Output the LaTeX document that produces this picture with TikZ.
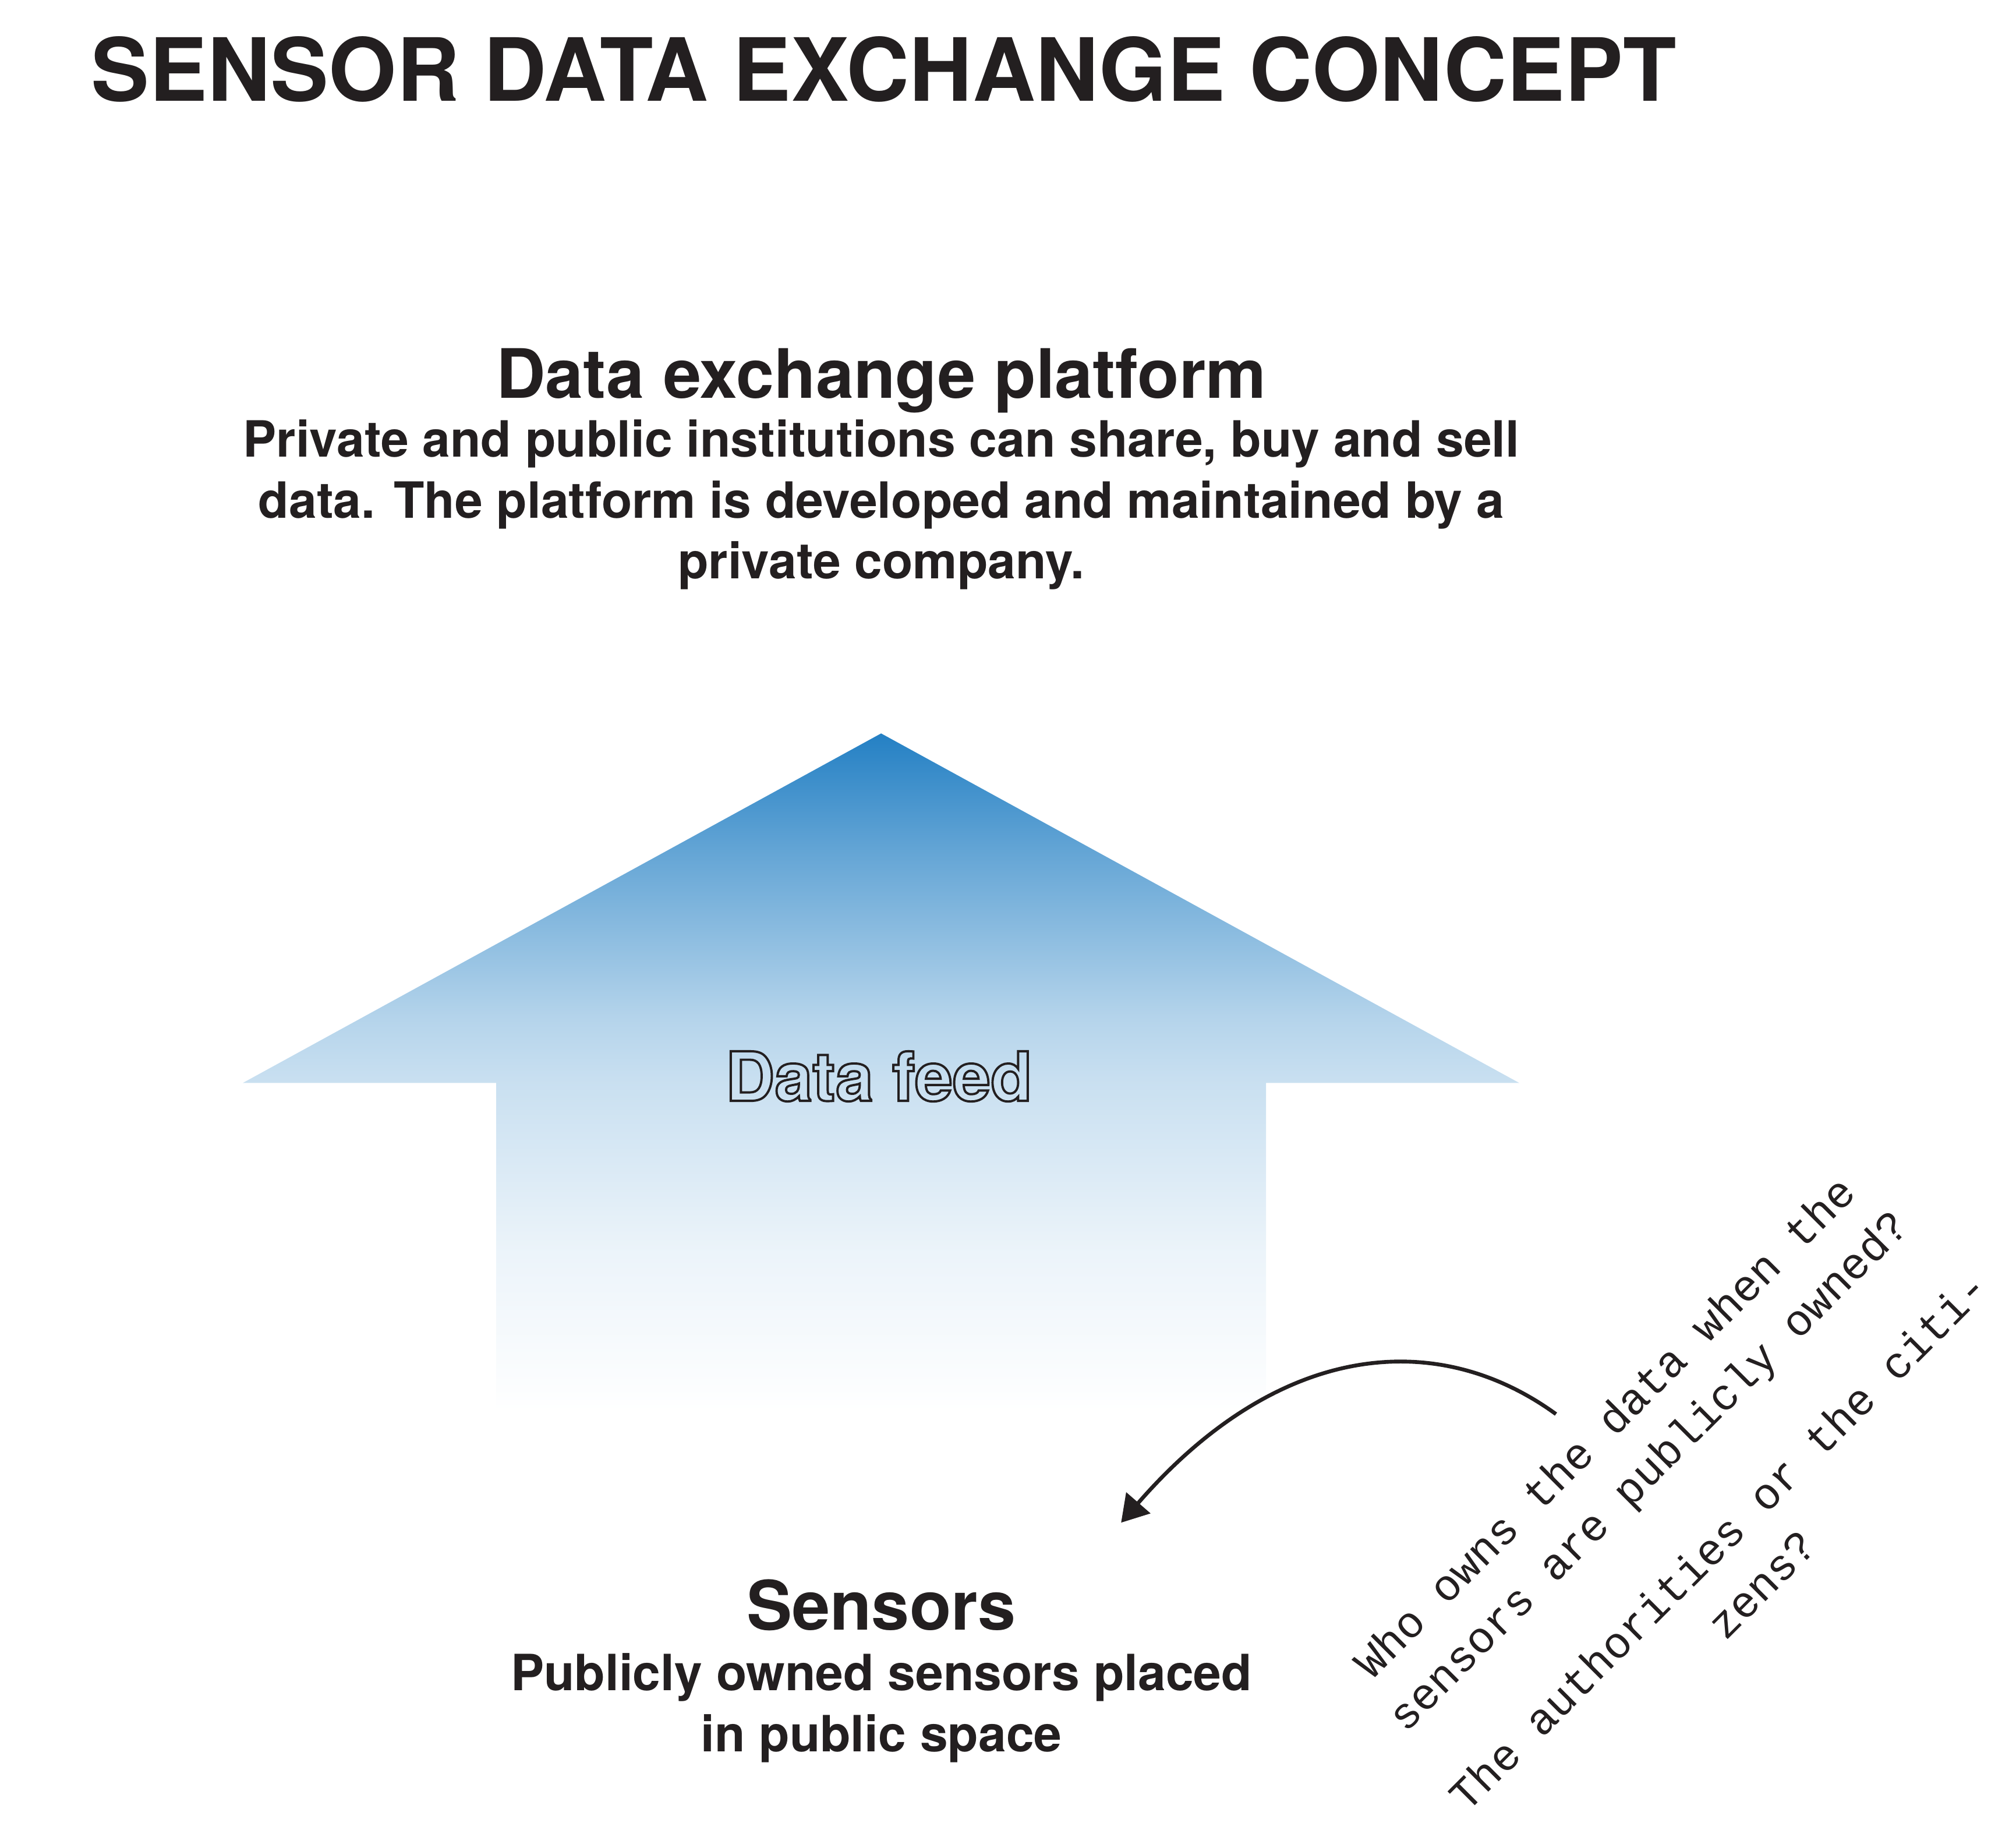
\documentclass[tikz,border=0pt]{standalone}
\usepackage{fontspec}
\setmainfont{TeX Gyre Heros}
\newfontfamily\qfont{Liberation Mono}
\usetikzlibrary{arrows.meta}
\definecolor{textblack}{RGB}{35,31,32}
\definecolor{arrowblue}{RGB}{36,128,196}
\pgfdeclareverticalshading{feedfade}{100bp}{color(0bp)=(white); color(25bp)=(white); color(27.5bp)=(arrowblue!2!white); color(37bp)=(arrowblue!9!white); color(49.5bp)=(arrowblue!25!white); color(54bp)=(arrowblue!34!white); color(66bp)=(arrowblue!70!white); color(75bp)=(arrowblue); color(100bp)=(arrowblue)}
\newcommand\outlinetext[1]{\special{pdf:literal direct 1 Tr 0.5 w}#1\special{pdf:literal direct 0 Tr}}
\begin{document}
\begin{tikzpicture}[>={Triangle[length=5.8pt,width=6.9pt]},
	heading/.style={font=\fontsize{15}{18}\selectfont\bfseries,text=textblack,inner sep=0pt},
	blurb/.style={font=\fontsize{11}{13.4}\selectfont\bfseries,text=textblack,align=center,inner sep=0pt},
	question/.style={font=\qfont\fontsize{9.7}{13.5}\selectfont,text=textblack,align=center,rotate=45,inner sep=0pt}]
		\useasboundingbox (0,0) rectangle (15.6,-14.1);
		\node[anchor=base west,inner sep=0pt,text=textblack,font=\fontsize{19.2}{23}\selectfont\bfseries] (title) at (0.70,-0.78) {SENSOR DATA EXCHANGE CONCEPT};
		\node[heading,anchor=base] (platform) at (6.82,-3.079) {Data exchange platform};
		\node[blurb,anchor=base] (platformtext) at (6.82,-4.477) {Private and public institutions can share, buy and sell\\ data. The platform is developed and maintained by a\\ private company.};
		\shade[shading=feedfade] (6.818,-5.674) -- (11.756,-8.378) -- (9.797,-8.378) -- (9.797,-10.92) -- (3.84,-10.92) -- (3.84,-8.378) -- (1.879,-8.378) -- cycle;
		\node[heading,anchor=base] (feed) at (6.80,-8.517) {\outlinetext{Data feed}};
		\node[heading,anchor=base] (sensors) at (6.82,-12.61) {Sensors};
		\node[blurb,anchor=base] (sensortext) at (6.82,-13.55) {Publicly owned sensors placed\\ in public space};
		\node[question] (question) at (13.02,-11.645) {Who owns the data when the\\ sensors are publicly owned?\\[8.5pt] The authorities or the citi-\\ zens?};
		\coordinate (qstart) at (12.04,-10.94);
		\coordinate (qtip) at (8.675,-11.78);
		\draw[->,line width=0.85pt,textblack] (qstart) to[out=144,in=49,out looseness=0.85,in looseness=1.36] (qtip);
\end{tikzpicture}
\end{document}
